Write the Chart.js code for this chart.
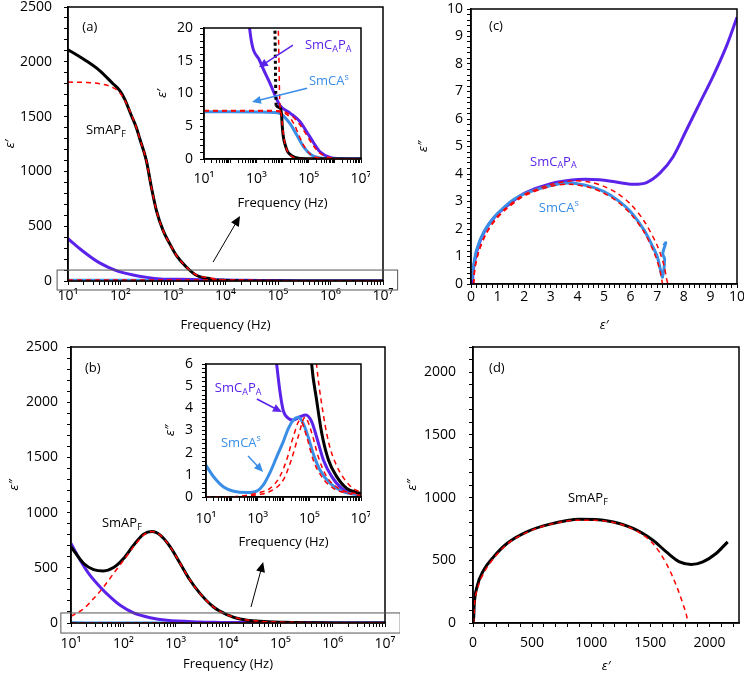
<!DOCTYPE html>
<html>
<head>
<meta charset="UTF-8">
<title>Dielectric spectra</title>
<script src="https://cdn.jsdelivr.net/npm/chart.js"></script>
<style>
  body { margin: 0; background: #fff; }
  #fig { position: relative; width: 744px; height: 674px; overflow: hidden; }
  canvas { position: absolute; }
</style>
</head>
<body>
<div id="fig">
  <canvas id="chartB" width="400" height="344" style="left:0px;top:330px"></canvas>
  <canvas id="chartD" width="344" height="344" style="left:400px;top:330px"></canvas>
  <canvas id="chartA" width="400" height="338" style="left:0px;top:0px"></canvas>
  <canvas id="chartC" width="344" height="338" style="left:400px;top:0px"></canvas>
  <canvas id="insetA" width="220" height="195" style="left:150px;top:20px"></canvas>
  <canvas id="insetB" width="220" height="200" style="left:150px;top:355px"></canvas>
</div>
<script>
// ---- (a) real part vs frequency ----
const fApfE1 = [10, 22, 40, 72, 96, 120, 161, 200, 232, 310, 386, 482, 646, 865, 1157, 1793, 2782, 4300, 5100, 5700, 8500, 9300, 9800, 10700, 12600, 15500, 22400, 41000, 115000, 1e7];
const apfE1  = [2110, 2010, 1920, 1800, 1740, 1660, 1510, 1400, 1300, 1100, 860, 645, 462, 341, 234, 128, 52, 26, 20.5, 8.2, 7.8, 6.5, 5.0, 3.46, 2.2, 1.17, 0.5, 0.1, 0.02, 0];
const fFitApfE1 = [10, 20, 40, 72, 96, 120, 161, 200, 232, 310, 386, 482, 646, 865, 1157, 1793, 2782, 4300, 6300, 7000, 7900, 9000, 10500, 13000, 17000, 25000, 50000, 1e7];
const fitApfE1  = [1815, 1812, 1800, 1765, 1720, 1650, 1520, 1400, 1300, 1100, 860, 645, 462, 341, 234, 128, 55, 32, 22, 19, 8.5, 6.8, 4.2, 2.0, 0.9, 0.3, 0.05, 0];
const fCapaE1 = [10, 19, 40, 83, 173, 320, 575, 1380, 3300, 7900, 19500, 47000, 83000, 148000, 270000, 650000, 1.5e6, 1e7];
const capaE1  = [386, 274, 165, 95, 55, 33, 19.4, 14.9, 11.6, 8.2, 7.0, 5.7, 4.2, 2.6, 1.1, 0.25, 0.08, 0.03];
const fCasE1 = [10, 100, 1000, 5000, 7900, 10700, 19500, 34700, 63000, 129000, 360000, 1e6, 1e7];
const casE1  = [7.2, 7.2, 7.18, 7.1, 6.95, 6.6, 5.4, 3.7, 1.9, 0.6, 0.1, 0.03, 0];
const fFitCasE1 = [10, 1000, 5000, 7900, 15800, 28000, 44700, 71000, 126000, 316000, 1e6, 1e7];
const fitCasE1  = [7.33, 7.33, 7.3, 7.2, 6.7, 5.3, 3.4, 1.8, 0.6, 0.1, 0.02, 0];
const fFitCapaE1 = [10, 1000, 5000, 10000, 22400, 44700, 79000, 141000, 250000, 500000, 1e6, 1e7];
const fitCapaE1  = [7.4, 7.4, 7.38, 7.3, 6.6, 5.3, 3.8, 2.2, 1.0, 0.3, 0.1, 0];

// ---- (b) imaginary part vs frequency ----
const fApfE2 = [10, 17.5, 27, 42, 65, 101, 157, 244, 352, 507, 787, 1220, 1890, 2940, 5280, 9500, 17000, 41000, 123000, 190000, 300000, 550000, 1.15e6, 2.8e6, 1e7];
const apfE2  = [690, 539, 484, 472, 502, 584, 705, 805, 829, 796, 690, 539, 387, 266, 145, 76, 36, 15, 6.0, 4.4, 2.9, 1.67, 0.92, 0.39, 0.15];
const fFitApfE2 = [10, 17.5, 27, 42, 65, 101, 157, 244, 352, 507, 787, 1220, 1890, 2940, 5280, 9500, 17000, 41000, 190000, 300000, 550000, 1.15e6, 3.8e6, 1e7];
const fitApfE2  = [60, 130, 221, 327, 448, 569, 690, 796, 829, 796, 690, 539, 387, 266, 145, 76, 38, 16, 6.0, 4.2, 2.5, 1.4, 0.5, 0.2];
const fCapaE2 = [10, 15, 23, 36, 56, 87, 157, 325, 675, 2940, 5500, 7400, 9800, 15500, 24000, 43700, 74000, 123000, 190000, 350000, 740000, 1.8e6, 5e6, 1e7];
const capaE2  = [720, 569, 433, 327, 236, 160, 91, 48, 24, 9, 5.95, 4.7, 3.9, 3.55, 3.47, 3.62, 3.7, 3.4, 2.72, 1.67, 0.92, 0.39, 0.17, 0.09];
const fCasE2 = [10, 20, 48, 117, 380, 930, 1660, 3000, 5400, 9800, 15500, 24000, 37000, 59000, 91000, 141000, 257000, 630000, 2e6, 1e7];
const casE2  = [1.43, 0.9, 0.45, 0.26, 0.2, 0.27, 0.55, 1.1, 1.8, 2.5, 3.1, 3.47, 3.6, 3.3, 2.7, 1.96, 1.22, 0.62, 0.24, 0.08];
const fFitCasE2 = [10, 100, 930, 3000, 7200, 13200, 24000, 43700, 79000, 141000, 300000, 850000, 3.8e6, 1e7];
const fitCasE2  = [0, 0.01, 0.17, 0.39, 0.92, 1.67, 2.72, 3.47, 2.72, 1.67, 0.92, 0.39, 0.15, 0.06];
const fFitCapaE2 = [10, 100, 930, 3000, 9800, 20000, 37000, 68000, 123000, 224000, 470000, 1.55e6, 1e7];
const fitCapaE2  = [0, 0.01, 0.1, 0.25, 0.77, 1.67, 2.72, 3.6, 2.9, 1.8, 0.92, 0.35, 0.12];

// ---- (c) Cole-Cole, SmCAs and SmCAPA ----
const casC_x = [0.03, 0.09, 0.21, 0.46, 0.84, 1.21, 1.59, 2, 3, 3.7, 4.5, 5, 5.5, 6, 6.5, 6.8, 7.0, 7.15, 7.2, 7.28, 7.21, 7.32, 7.25];
const casC_y = [0.15, 0.63, 1.24, 1.85, 2.39, 2.76, 3.06, 3.28, 3.58, 3.67, 3.54, 3.36, 3.06, 2.63, 1.97, 1.42, 1.0, 0.4, 0.25, 0.9, 1.1, 1.5, 1.4];
const fitCasC_x = [0.1, 0.15, 0.3, 0.55, 0.9, 1.3, 2, 3, 3.7, 4.5, 5, 5.5, 6, 6.5, 6.9, 7.1, 7.2];
const fitCasC_y = [0, 0.6, 1.2, 1.8, 2.3, 2.7, 3.2, 3.55, 3.63, 3.5, 3.3, 3.0, 2.55, 1.9, 1.1, 0.5, 0];
const fitCapaC_x = [0.1, 0.15, 0.3, 0.55, 0.9, 1.3, 2, 3, 3.8, 4.5, 5, 5.5, 6, 6.5, 7, 7.25, 7.35, 7.4];
const fitCapaC_y = [0, 0.6, 1.2, 1.8, 2.35, 2.75, 3.25, 3.62, 3.75, 3.7, 3.55, 3.3, 2.9, 2.3, 1.4, 0.7, 0.2, 0];
const capaC_x = [0.05, 0.1, 0.25, 0.5, 0.9, 1.5, 2, 3, 4, 4.84, 5.5, 6.09, 6.6, 7.1, 7.6, 8.1, 8.6, 9.1, 9.6, 10];
const capaC_y = [0, 0.6, 1.3, 1.9, 2.45, 2.95, 3.3, 3.65, 3.8, 3.79, 3.7, 3.63, 3.69, 4.03, 4.63, 5.6, 6.58, 7.55, 8.64, 9.7];

// ---- (d) Cole-Cole, SmAPF ----
const apfD_x = [2, 6, 11, 34, 90, 174, 287, 455, 652, 904, 1129, 1354, 1522, 1635, 1747, 1846, 1944, 2056, 2154];
const apfD_y = [5, 48, 154, 288, 421, 527, 634, 727, 788, 826, 815, 754, 660, 567, 487, 466, 487, 554, 647];
const fitD_x = [5, 11, 39, 96, 174, 287, 455, 652, 904, 1129, 1354, 1522, 1635, 1719, 1775, 1809, 1817];
const fitD_y = [0, 128, 274, 407, 514, 628, 722, 786, 820, 810, 748, 633, 474, 301, 154, 48, 0];

// tick labels
const decadesMain = [10, 100, 1e3, 1e4, 1e5, 1e6, 1e7];
const decadesInset = [10, 1e3, 1e5, 1e7];
const yLabelsBig = [0, 500, 1000, 1500, 2000, 2500];
const yLabelsInsetA = [0, 5, 10, 15, 20];
const yLabelsInsetB = [0, 1, 2, 3, 4, 5, 6];
const labelsC = [0, 1, 2, 3, 4, 5, 6, 7, 8, 9, 10];
const labelsD = [0, 500, 1000, 1500, 2000];

const RED = '#ff0000', BLK = '#000000', PUR = '#5b22ea', BLU = '#3a8ee6';
const FONT = "'Open Sans', 'DejaVu Sans', sans-serif";
Chart.defaults.font.family = FONT;
Chart.defaults.font.size = 13;
Chart.defaults.color = '#000';

const SUP = '⁰¹²³⁴⁵⁶⁷⁸⁹';

function logTicks(e0, e1) {
  const t = [];
  for (let e = e0; e < e1; e++) for (let m = 1; m < 10; m++) t.push(m * Math.pow(10, e));
  t.push(Math.pow(10, e1));
  return t;
}
function linTicks(min, max, step) {
  const t = [];
  const n = Math.round((max - min) / step);
  for (let i = 0; i <= n; i++) t.push(+(min + i * step).toFixed(6));
  return t;
}
function hasLabel(list, v) {
  return list.some(l => Math.abs(l - v) < 1e-6 * Math.max(1, Math.abs(l)));
}

function axis(o) {
  return {
    type: o.type || 'linear',
    min: o.min, max: o.max,
    afterBuildTicks: ax => { ax.ticks = o.ticks.map(v => ({ value: v })); },
    afterFit: ax => {
      if (o.w) ax.width = o.w;
      if (o.h) ax.height = o.h;
      // plot area is set by the layout padding alone
      ax.paddingTop = ax.paddingBottom = ax.paddingLeft = ax.paddingRight = 0;
    },
    ticks: {
      autoSkip: false, maxRotation: 0, minRotation: 0, padding: o.tickPad,
      color: '#000', font: { size: 14 },
      callback: v => hasLabel(o.labels, v) ? (o.type === 'logarithmic' ? '10' + SUP[Math.round(Math.log10(v))] : String(v)) : ''
    },
    grid: { drawOnChartArea: false, drawTicks: true, tickLength: 4, color: '#000', lineWidth: 1 },
    border: { display: true, color: '#000', width: 1.5 },
    title: {
      display: true, text: o.title, color: '#000',
      font: { size: 13, style: o.italic ? 'italic' : 'normal' },
      padding: o.titlePad || 0
    }
  };
}

function curve(xs, ys, color, order, smooth, extra) {
  return Object.assign({
    data: xs.map((x, i) => ({ x: x, y: ys[i] })),
    borderColor: color, backgroundColor: color,
    borderWidth: 3, pointRadius: 0, showLine: true, fill: false, order: order
  }, smooth === 'mono' ? { cubicInterpolationMode: 'monotone' } : { tension: 0.3 }, extra || {});
}
function fit(xs, ys, order, smooth) {
  return curve(xs, ys, RED, order, smooth, { borderWidth: 1.5, borderDash: [5, 4] });
}

// rich text: parts = [[text, 'n' | 'sub' | 'sup'], ...]
function drawRich(ctx, x, y, parts, color, align) {
  const size = { n: 13, sub: 9, sup: 9 };
  const dy = { n: 0, sub: 4, sup: -4 };
  let w = 0;
  parts.forEach(p => { ctx.font = size[p[1]] + 'px ' + FONT; w += ctx.measureText(p[0]).width; });
  let cx = align === 'center' ? x - w / 2 : x;
  ctx.fillStyle = color;
  ctx.textBaseline = 'middle';
  ctx.textAlign = 'left';
  parts.forEach(p => {
    ctx.font = size[p[1]] + 'px ' + FONT;
    ctx.fillText(p[0], cx, y + dy[p[1]]);
    cx += ctx.measureText(p[0]).width;
  });
}
function drawArrow(ctx, x1, y1, x2, y2, color, width, head) {
  const a = Math.atan2(y2 - y1, x2 - x1);
  const c = Math.cos(a), s = Math.sin(a);
  ctx.strokeStyle = color; ctx.fillStyle = color; ctx.lineWidth = width;
  ctx.beginPath();
  ctx.moveTo(x1, y1);
  ctx.lineTo(x2 - head * 0.8 * c, y2 - head * 0.8 * s);
  ctx.stroke();
  ctx.beginPath();
  ctx.moveTo(x2, y2);
  ctx.lineTo(x2 - head * c + head * 0.45 * s, y2 - head * s - head * 0.45 * c);
  ctx.lineTo(x2 - head * c - head * 0.45 * s, y2 - head * s + head * 0.45 * c);
  ctx.closePath();
  ctx.fill();
}

function decor(cfg) {
  return {
    id: 'decor',
    afterDraw(chart) {
      const ctx = chart.ctx, a = chart.chartArea, sx = chart.scales.x, sy = chart.scales.y;
      const px = v => sx.getPixelForValue(v), py = v => sy.getPixelForValue(v);
      ctx.save();
      ctx.strokeStyle = '#000'; ctx.lineWidth = 1.5;
      ctx.strokeRect(a.left, a.top, a.right - a.left, a.bottom - a.top);
      (cfg.rects || []).forEach(r => {
        ctx.strokeStyle = '#555'; ctx.lineWidth = 1;
        ctx.strokeRect(px(r[0]), py(r[1]), px(r[2]) - px(r[0]), py(r[3]) - py(r[1]));
      });
      (cfg.arrows || []).forEach(r => drawArrow(ctx, px(r.from[0]), py(r.from[1]), px(r.to[0]), py(r.to[1]), r.color, r.width, r.head));
      (cfg.texts || []).forEach(t => drawRich(ctx, px(t.at[0]), py(t.at[1]), t.parts, t.color, t.align));
      ctx.restore();
    }
  };
}

function build(id, o) {
  return new Chart(document.getElementById(id), {
    type: 'scatter',
    data: { datasets: o.datasets },
    options: {
      responsive: false, animation: false, events: [],
      layout: { padding: o.pad },
      plugins: { legend: { display: false }, tooltip: { enabled: false } },
      scales: { x: o.x, y: o.y }
    },
    plugins: [decor(o.decor)]
  });
}

const APF = [['SmAP', 'n'], ['F', 'sub']];
const CAPA = [['SmC', 'n'], ['A', 'sub'], ['P', 'n'], ['A', 'sub']];
const CAS = [['SmCA', 'n'], ['s', 'sup']];

// (a)
build('chartA', {
  pad: { left: 0, top: 7, right: 17, bottom: 8 },
  x: axis({ type: 'logarithmic', min: 10, max: 1e7, ticks: logTicks(1, 7), labels: decadesMain, h: 49, tickPad: 3, title: 'Frequency (Hz)', titlePad: { top: 0, bottom: -3 } }),
  y: axis({ min: 0, max: 2500, ticks: linTicks(0, 2500, 100), labels: yLabelsBig, w: 68, tickPad: 12, title: 'ε′', italic: true, titlePad: { top: 2, bottom: 0 } }),
  datasets: [
    fit(fFitApfE1, fitApfE1, 0, 'mono'),
    fit(fFitCasE1, fitCasE1, 0, 'mono'),
    fit(fFitCapaE1, fitCapaE1, 0, 'mono'),
    curve(fApfE1, apfE1, BLK, 1, 'mono'),
    curve(fCapaE1, capaE1, PUR, 2, 'mono'),
    curve(fCasE1, casE1, BLU, 3, 'mono')
  ],
  decor: {
    texts: [
      { at: [26, 2318], parts: [['(a)', 'n']], color: BLK, align: 'center' },
      { at: [22, 1378], parts: APF, color: BLK }
    ],
    rects: [[6.2, 100, 1.9e7, -82]],
    arrows: [{ from: [5800, 173], to: [1.89e4, 593], color: BLK, width: 1, head: 10 }]
  }
});

// inset (a)
build('insetA', {
  pad: { left: 0, top: 8, right: 9, bottom: 4 },
  x: axis({ type: 'logarithmic', min: 10, max: 1e7, ticks: logTicks(1, 7), labels: decadesInset, h: 52, tickPad: 8, title: 'Frequency (Hz)' }),
  y: axis({ min: 0, max: 20, ticks: linTicks(0, 20, 1), labels: yLabelsInsetA, w: 54, tickPad: 7, title: 'ε′', italic: true, titlePad: { top: 4, bottom: 0 } }),
  datasets: [
    fit(fFitApfE1, fitApfE1, 0, 'mono'),
    fit(fFitCasE1, fitCasE1, 0, 'mono'),
    fit(fFitCapaE1, fitCapaE1, 0, 'mono'),
    curve(fApfE1, apfE1, BLK, 1, 'mono', {
      segment: { borderDash: c => (c.p0.parsed.x >= 5000 && c.p1.parsed.x <= 5800) ? [3, 3] : undefined }
    }),
    curve(fCasE1, casE1, BLU, 2, 'mono'),
    curve(fCapaE1, capaE1, PUR, 3, 'mono')
  ],
  decor: {
    texts: [
      { at: [7.2e4, 17.4], parts: CAPA, color: PUR },
      { at: [1.02e5, 11.8], parts: CAS, color: BLU }
    ],
    arrows: [
      { from: [2.5e4, 17.4], to: [1260, 14.0], color: PUR, width: 1.5, head: 9 },
      { from: [8.7e4, 10.8], to: [680, 8.7], color: BLU, width: 1.5, head: 9 }
    ]
  }
});

// (b)
build('chartB', {
  pad: { left: 0, top: 17, right: 15, bottom: 2 },
  x: axis({ type: 'logarithmic', min: 10, max: 1e7, ticks: logTicks(1, 7), labels: decadesMain, h: 49, tickPad: 9, title: 'Frequency (Hz)' }),
  y: axis({ min: 0, max: 2500, ticks: linTicks(0, 2500, 100), labels: yLabelsBig, w: 71, tickPad: 9, title: 'ε″', italic: true, titlePad: { top: 6, bottom: 0 } }),
  datasets: [
    fit(fFitApfE2, fitApfE2, 0, 'mono'),
    fit(fFitCasE2, fitCasE2, 0, 'mono'),
    fit(fFitCapaE2, fitCapaE2, 0, 'mono'),
    curve(fApfE2, apfE2, BLK, 1, 'mono'),
    curve(fCapaE2, capaE2, PUR, 2, 'mono'),
    curve(fCasE2, casE2, BLU, 3, 'mono')
  ],
  decor: {
    texts: [
      { at: [26, 2310], parts: [['(b)', 'n']], color: BLK, align: 'center' },
      { at: [39, 906], parts: APF, color: BLK }
    ],
    rects: [[6.4, 91, 1.95e7, -91]],
    arrows: [{ from: [2.75e4, 145], to: [4.7e4, 553], color: BLK, width: 1, head: 10 }]
  }
});

// inset (b)
build('insetB', {
  pad: { left: 0, top: 9, right: 9, bottom: 5 },
  x: axis({ type: 'logarithmic', min: 10, max: 1e7, ticks: logTicks(1, 7), labels: decadesInset, h: 53, tickPad: 10, title: 'Frequency (Hz)' }),
  y: axis({ min: 0, max: 6, ticks: linTicks(0, 6, 0.2), labels: yLabelsInsetB, w: 56, tickPad: 9, title: 'ε″', italic: true, titlePad: { top: 12, bottom: 0 } }),
  datasets: [
    fit(fFitApfE2, fitApfE2, 0, 'mono'),
    fit(fFitCasE2, fitCasE2, 0, 'mono'),
    fit(fFitCapaE2, fitCapaE2, 0, 'mono'),
    curve(fApfE2, apfE2, BLK, 1, 'mono'),
    curve(fCasE2, casE2, BLU, 2, 'mono'),
    curve(fCapaE2, capaE2, PUR, 3, 'mono')
  ],
  decor: {
    texts: [
      { at: [22, 4.92], parts: CAPA, color: PUR },
      { at: [38, 2.44], parts: CAS, color: BLU }
    ],
    arrows: [
      { from: [930, 4.42], to: [8700, 3.83], color: PUR, width: 1.5, head: 9 },
      { from: [425, 1.85], to: [1620, 1.13], color: BLU, width: 1.5, head: 9 }
    ]
  }
});

// (c)
build('chartC', {
  pad: { left: 0, top: 9, right: 7, bottom: 8 },
  x: axis({ min: 0, max: 10, ticks: linTicks(0, 10, 0.2), labels: labelsC, h: 46, tickPad: 1, title: 'ε′', italic: true, titlePad: { top: 0, bottom: -3 } }),
  y: axis({ min: 0, max: 10, ticks: linTicks(0, 10, 0.2), labels: labelsC, w: 71, tickPad: 4, title: 'ε″', italic: true, titlePad: { top: 15, bottom: 0 } }),
  datasets: [
    fit(fitCasC_x, fitCasC_y, 0),
    fit(fitCapaC_x, fitCapaC_y, 0),
    curve(casC_x, casC_y, BLU, 1),
    curve(capaC_x, capaC_y, PUR, 2)
  ],
  decor: {
    texts: [
      { at: [0.94, 9.36], parts: [['(c)', 'n']], color: BLK, align: 'center' },
      { at: [2.22, 4.44], parts: CAPA, color: PUR },
      { at: [2.55, 2.77], parts: CAS, color: BLU }
    ]
  }
});

// (d)
build('chartD', {
  pad: { left: 0, top: 17, right: 5, bottom: 0 },
  x: axis({ min: 0, max: 2250, ticks: linTicks(0, 2200, 100), labels: labelsD, h: 51, tickPad: 8, title: 'ε′', italic: true }),
  y: axis({ min: 0, max: 2200, ticks: linTicks(0, 2200, 100), labels: labelsD, w: 73, tickPad: 13, title: 'ε″', italic: true, titlePad: { top: 4, bottom: 0 } }),
  datasets: [
    fit(fitD_x, fitD_y, 0, 'mono'),
    curve(apfD_x, apfD_y, BLK, 1, 'mono')
  ],
  decor: {
    texts: [
      { at: [202, 2034], parts: [['(d)', 'n']], color: BLK, align: 'center' },
      { at: [803, 996], parts: APF, color: BLK }
    ]
  }
});
</script>
</body>
</html>
